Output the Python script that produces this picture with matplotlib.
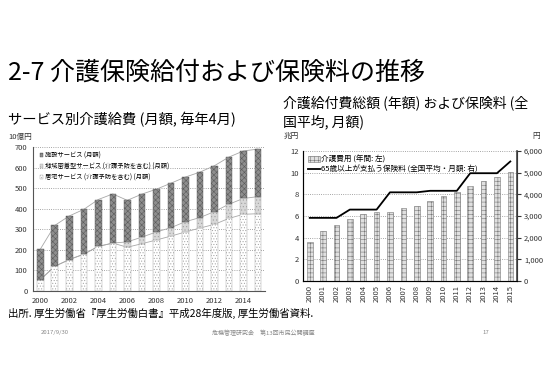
import numpy as np
import matplotlib
matplotlib.use('Agg')
import matplotlib.pyplot as plt

plt.rcParams['font.family'] = ['Noto Sans CJK JP', 'DejaVu Sans']
plt.rcParams['hatch.linewidth'] = 0.4

# Data: left chart (10億円, monthly, April)
years = np.arange(2000, 2016)
kyotaku = [55, 120, 153, 179, 217, 233, 213, 230, 248, 267, 287, 306, 324, 353, 373, 376]
chiiki = [0, 0, 0, 0, 0, 0, 26, 32, 39, 41, 50, 51, 62, 69, 77, 83]
shisetsu = [148, 199, 212, 218, 228, 239, 202, 209, 208, 216, 217, 221, 223, 229, 231, 231]
left_xticks = [2000, 2002, 2004, 2006, 2008, 2010, 2012, 2014]

# Data: right chart
kaigo_hiyou = [3.6, 4.6, 5.2, 5.7, 6.2, 6.4, 6.4, 6.7, 6.9, 7.4, 7.8, 8.2, 8.8, 9.2, 9.6, 10.1]  # 兆円
hokenryo = [2911, 2911, 2911, 3293, 3293, 3293, 4090, 4090, 4090, 4160, 4160, 4160,
            4972, 4972, 4972, 5514]  # 円

fig = plt.figure(figsize=(5.5, 3.87), dpi=100)

# Titles
fig.text(0.015, 0.812, '2-7 介護保険給付および保険料の推移', fontsize=18, va='center')
fig.text(0.015, 0.690, 'サービス別介護給費 (月額, 毎年4月)', fontsize=10.3, va='center')
fig.text(0.515, 0.734, '介護給付費総額 (年額) および保険料 (全', fontsize=10, va='center')
fig.text(0.515, 0.685, '国平均, 月額)', fontsize=10, va='center')

# Left chart
ax1 = fig.add_axes([0.060, 0.248, 0.422, 0.372])
k = np.array(kyotaku)
c = k + np.array(chiiki)
t = c + np.array(shisetsu)
w = 0.45
ax1.plot(years, k, color='#a8a8a8', lw=0.6, zorder=1)
ax1.plot(years, c, color='#a8a8a8', lw=0.6, zorder=1)
ax1.plot(years, t, color='#a8a8a8', lw=0.6, zorder=1)
ax1.bar(years, kyotaku, w, color='white', edgecolor='#a0a0a0', hatch='......',
        lw=0.3, zorder=2, label='居宅サービス (介護予防を含む) (月額)')
ax1.bar(years, chiiki, w, bottom=k, color='#d8d8d8', edgecolor='#a0a0a0', hatch='.....',
        lw=0.3, zorder=2, label='地域密着型サービス (介護予防を含む) (月額)')
ax1.bar(years, shisetsu, w, bottom=c, color='#8e8e8e', edgecolor='#5a5a5a', hatch='xxxxxx',
        lw=0.3, zorder=2, label='施設サービス (月額)')
ax1.set_xlim(1999.5, 2015.5)
ax1.set_ylim(0, 700)
ax1.set_yticks(range(0, 701, 100))
ax1.set_xticks(left_xticks)
ax1.tick_params(labelsize=5.5, length=0, pad=4, colors='#333333')
ax1.yaxis.grid(True, ls=':', color='#888888', lw=0.6)
ax1.set_axisbelow(True)
for s in ['top', 'right']:
    ax1.spines[s].set_visible(False)
ax1.spines['left'].set_color('#555555')
ax1.spines['bottom'].set_color('#555555')
h, l = ax1.get_legend_handles_labels()
ax1.legend(h[::-1], l[::-1], loc='upper left', fontsize=4.5, frameon=False,
           handlelength=0.6, handleheight=0.6, handletextpad=0.3, labelspacing=0.5,
           borderaxespad=0.3, bbox_to_anchor=(0.01, 1.0))
fig.text(0.015, 0.645, '10億円', fontsize=5.5, va='center', color='#333333')

# Right chart
ax2 = fig.add_axes([0.551, 0.274, 0.389, 0.336])
ax2.bar(years, kaigo_hiyou, 0.42, color='#e0e0e0', edgecolor='#777777', hatch='++++',
        lw=0.4, label='介護費用 (年間: 左)')
ax2.set_xlim(1999.5, 2015.5)
ax2.set_ylim(0, 12)
ax2.set_yticks(range(0, 13, 2))
ax2.set_xticks(years)
ax2.set_xticklabels([str(y) for y in years], rotation=90)
ax2.tick_params(labelsize=5.5, length=0, pad=3, colors='#333333')
ax2.yaxis.grid(True, ls=':', color='#888888', lw=0.6)
ax2.set_axisbelow(True)
ax2.spines['top'].set_visible(False)
ax2.spines['left'].set_color('#555555')
ax2.spines['bottom'].set_color('#555555')

ax3 = ax2.twinx()
ax3.plot(years, hokenryo, color='black', lw=1.3, label='65歳以上が支払う保険料 (全国平均・月額: 右)')
ax3.set_ylim(0, 6000)
ax3.set_yticks(range(0, 6001, 1000))
ax3.set_yticklabels([f'{v:,}' for v in range(0, 6001, 1000)])
ax3.tick_params(labelsize=5.5, length=3, width=0.8, pad=2, colors='#333333')
ax3.spines['top'].set_visible(False)
ax3.spines['right'].set_color('#444444')
ax3.spines['right'].set_linewidth(1.2)

h2, l2 = ax2.get_legend_handles_labels()
h3, l3 = ax3.get_legend_handles_labels()
ax3.legend(h2 + h3, l2 + l3, loc='upper left', fontsize=5.5, frameon=False,
           handlelength=1.6, handleheight=0.7, handletextpad=0.2, labelspacing=0.3,
           borderaxespad=0.2)
fig.text(0.515, 0.648, '兆円', fontsize=5.5, va='center', color='#333333')
fig.text(0.968, 0.648, '円', fontsize=5.5, va='center', color='#333333')

# Source and footer
fig.text(0.015, 0.189, '出所. 厚生労働省『厚生労働白書』平成28年度版, 厚生労働省資料.',
         fontsize=7.5, va='center')
fig.text(0.075, 0.140, '2017/9/30', fontsize=4.3, va='center', color='#888888')
fig.text(0.478, 0.140, '危機管理研究会　第13回市民公開講座', fontsize=4.3, va='center',
         ha='center', color='#888888')
fig.text(0.878, 0.140, '17', fontsize=4.3, va='center', color='#888888')

fig.savefig('out.png', dpi=100)
